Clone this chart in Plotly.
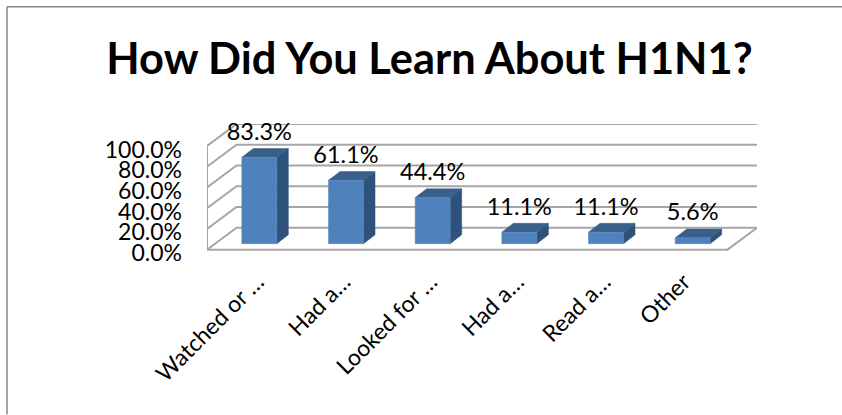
import plotly.graph_objects as go

categories = ["Watched or …", "Had a…", "Looked for …", "Had a…", "Read a…", "Other"]
values = [83.3, 61.1, 44.4, 11.1, 11.1, 5.6]
labels = ["83.3%", "61.1%", "44.4%", "11.1%", "11.1%", "5.6%"]
grid_levels = [0, 20, 40, 60, 80, 100]
grid_labels = ["0.0%", "20.0%", "40.0%", "60.0%", "80.0%", "100.0%"]
title_text = "How Did You Learn About H1N1?"

W, H = 842, 415
L, R, T, B = 207, 757, 124, 250      # chart floor front edge is at B
UX = 86.67                           # pixels per category
UY = 1.04                            # pixels per percentage point
BELOW = 10                           # axis units kept under the zero line
PB = B + BELOW * UY                  # bottom of the plot rectangle
X_MAX = (R - L) / UX
Y_MAX = (B - T) / UY
WALL_X, WALL_Y = 29.5 / UX, 22 / UY  # floor depth
BAR_W = 35 / UX
BAR_X, BAR_Y = 11.5 / UX, 8.8 / UY   # bar depth
BASE = 6 / UY                        # bar foot above the front edge
SHIFT = 9 / UX                       # bars sit slightly into the floor
LABEL_UP = 23.5 / UY
TICK_NUDGE = 3.4                     # y labels sit slightly under their gridline
LABEL_NUDGE = 0.08                   # x labels end right of the category middle
OTHER_NUDGE = 0.0                    # last label has no ellipsis, ends further left

GRID = "#a6a6a6"
FRONT, SIDE, TOP = "#4f81bd", "#2f527c", "#386088"
FRAME = "#868686"

fig = go.Figure()


def line(xs, ys, width=2.0, color=GRID):
    fig.add_trace(go.Scatter(x=xs, y=ys, mode="lines", cliponaxis=False, hoverinfo="skip",
                             line=dict(color=color, width=width), showlegend=False))


def face(xs, ys, color):
    fig.add_trace(go.Scatter(x=xs, y=ys, mode="lines", fill="toself", fillcolor=color,
                             line=dict(color=color, width=0.5), cliponaxis=False,
                             hoverinfo="skip", showlegend=False))


# walls and floor
for level in grid_levels:
    line([0, WALL_X, X_MAX], [level, level + WALL_Y, level + WALL_Y])
line([0, 0], [0, 100])
line([-8 / UX, X_MAX - WALL_X, X_MAX], [0, 0, WALL_Y])

# bars: side, top, then the front face
centres = [i + 0.5 + SHIFT for i in range(len(values))]
for c, v in zip(centres, values):
    x0, x1 = c - BAR_W / 2, c + BAR_W / 2
    y0, y1 = BASE, BASE + v
    face([x1, x1 + BAR_X, x1 + BAR_X, x1, x1], [y0, y0 + BAR_Y, y1 + BAR_Y, y1, y0], SIDE)
    face([x0, x1, x1 + BAR_X, x0 + BAR_X, x0], [y1, y1, y1 + BAR_Y, y1 + BAR_Y, y1], TOP)
    face([x0, x1, x1, x0, x0], [y0, y0, y1, y1, y0], FRONT)

fig.add_trace(go.Scatter(x=centres, y=[v + BASE + LABEL_UP for v in values],
                         mode="text", text=labels, cliponaxis=False, hoverinfo="skip",
                         textposition="middle center",
                         textfont=dict(family="Lato", size=23.5, color="#000000"),
                         showlegend=False))


def page_y(py):
    return (PB - py) / (PB - T)


x_ticks = [i + 0.5 + (OTHER_NUDGE if name == "Other" else LABEL_NUDGE)
           for i, name in enumerate(categories)]

fig.update_layout(
    width=W, height=H, autosize=False,
    margin=dict(l=L, r=W - R, t=T, b=H - PB, pad=0),
    paper_bgcolor="#ffffff", plot_bgcolor="rgba(0,0,0,0)",
    title=dict(text=f"<b>{title_text}</b>", x=429.5 / W, xanchor="center",
               y=1 - 59 / H, yanchor="middle",
               font=dict(family="Lato", size=43.4, color="#000000")),
    xaxis=dict(range=[0, X_MAX], showgrid=False, zeroline=False, showline=False,
               tickmode="array", tickvals=x_ticks,
               ticktext=categories, tickangle=-45, ticks="", ticklabelstandoff=3,
               tickfont=dict(family="Lato", size=23, color="#000000")),
    yaxis=dict(range=[-BELOW, Y_MAX], showgrid=False, zeroline=False, showline=False,
               tickmode="array", tickvals=[g - TICK_NUDGE for g in grid_levels],
               ticktext=grid_labels, ticks="", ticklabelstandoff=24,
               tickfont=dict(family="Lato", size=23, color="#000000")),
    shapes=[dict(type="line", xref="paper", yref="paper", x0=-200 / 550, x1=-200 / 550,
                 y0=page_y(H), y1=page_y(6.5), line=dict(color=FRAME, width=1.5)),
            dict(type="line", xref="paper", yref="paper", x0=-200 / 550, x1=(W - L) / 550,
                 y0=page_y(6.5), y1=page_y(6.5), line=dict(color=FRAME, width=1.5))],
)

fig.write_html("out.html", config={"displayModeBar": False},
               post_script="document.body.style.margin='0';")
